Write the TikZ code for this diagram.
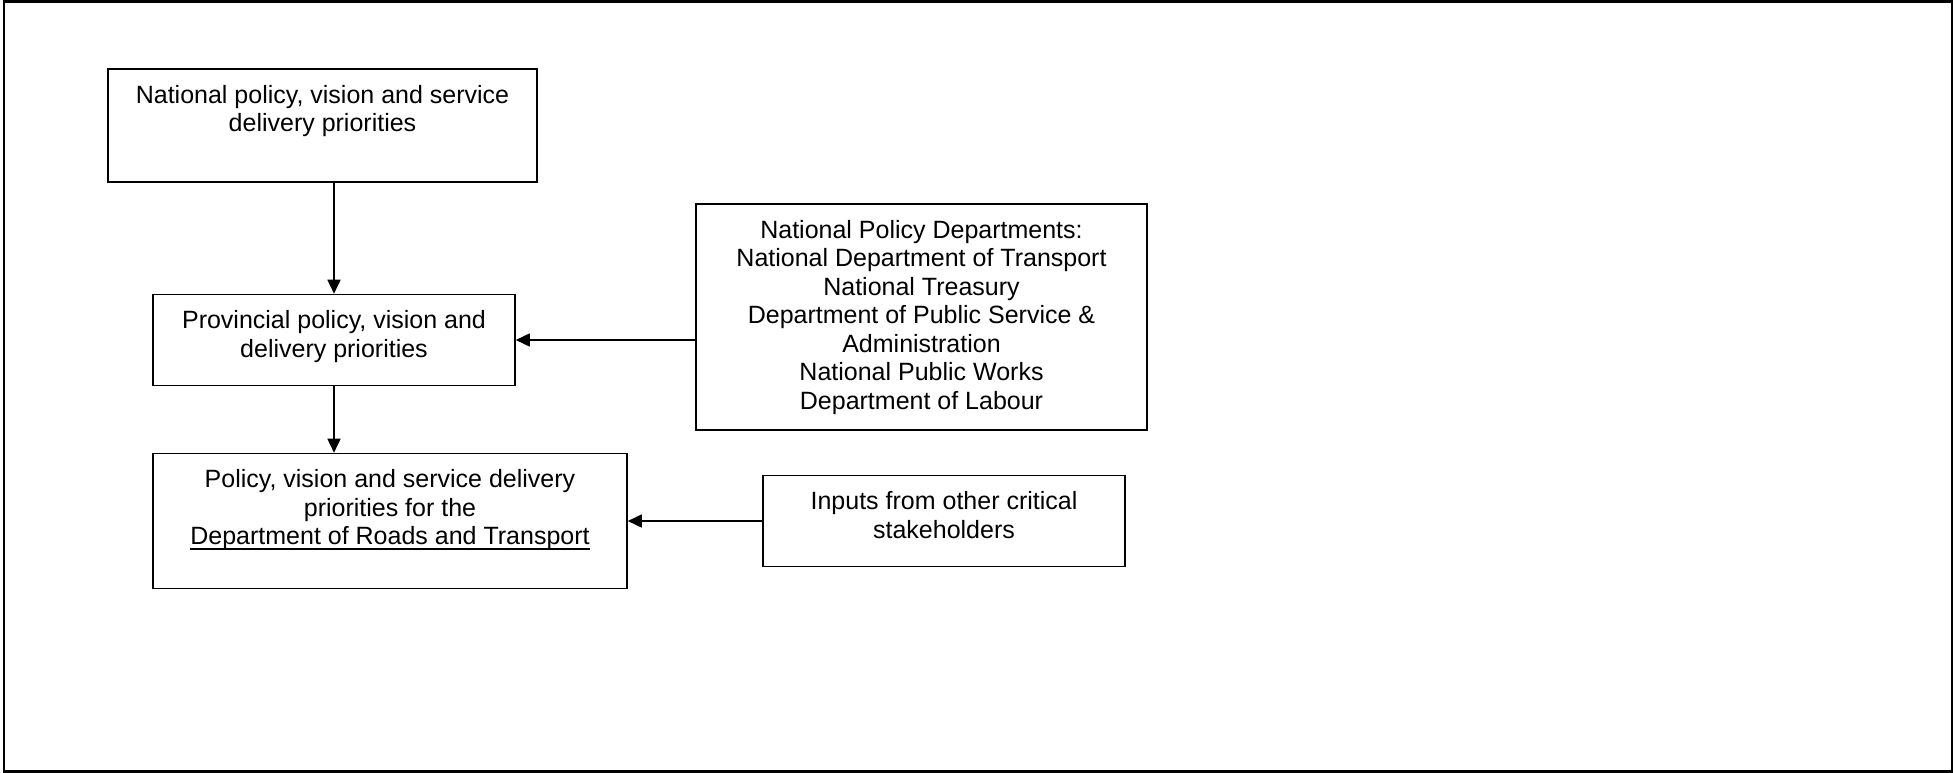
\documentclass[tikz,border=0pt]{standalone}
\usepackage{fontspec}
\setmainfont{Liberation Sans}
\usetikzlibrary{arrows.meta}
\newcommand{\thickul}[1]{\setbox0\hbox{#1}\rlap{\rule[-5pt]{\wd0}{1.5pt}}\box0}
\begin{document}
\begin{tikzpicture}[x=1pt,y=-1pt,
  box/.style={draw,line width=1.6pt,rectangle,inner sep=0pt},
  txt/.style={anchor=north,inner sep=0pt,align=center,font=\fontsize{25}{28.5}\selectfont,yshift=-15pt},
  conn/.style={line width=1.7pt,-{Triangle[length=14pt,width=13pt]}}]
\useasboundingbox (0,0) rectangle (1955,773);
\draw[line width=2.6pt] (4,1.5) rectangle (1952,771.5);

\node[box,minimum width=429pt,minimum height=113pt] (nat) at (322.5,125.5) {};
\node[txt] (natT) at (nat.north) {\strut National policy, vision and service\\delivery priorities};

\node[box,minimum width=362pt,minimum height=91pt] (prov) at (334,340) {};
\node[txt] (provT) at (prov.north) {\strut Provincial policy, vision and\\delivery priorities};

\node[box,minimum width=474pt,minimum height=135pt] (drt) at (390,521) {};
\node[txt] (drtT) at (drt.north) {\strut Policy, vision and service delivery\\priorities for the\\\thickul{Department of Roads and Transport}};

\node[box,minimum width=451pt,minimum height=226pt] (npd) at (921.5,317) {};
\node[txt] (npdT) at (npd.north) {\strut National Policy Departments:\\National Department of Transport\\National Treasury\\Department of Public Service \&\\Administration\\National Public Works\\Department of Labour};

\node[box,minimum width=362pt,minimum height=91pt] (inp) at (944,521) {};
\node[txt] (inpT) at (inp.north) {\strut Inputs from other critical\\stakeholders};

\draw[conn] (nat.south -| prov.north) -- (prov.north);
\draw[conn] (prov.south) -- (drt.north -| prov.south);
\draw[conn] (npd.west |- prov.east) -- (prov.east);
\draw[conn] (inp.west) -- (drt.east);
\end{tikzpicture}
\end{document}
